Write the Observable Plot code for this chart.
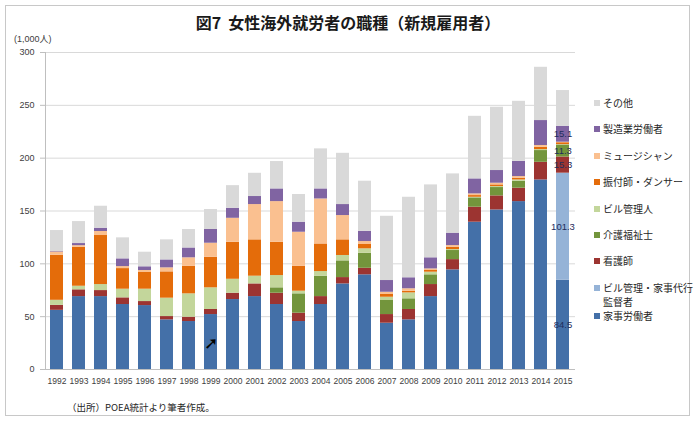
<!DOCTYPE html>
<html>
<head>
<meta charset="utf-8">
<script src="https://cdn.jsdelivr.net/npm/d3@7"></script>
<script src="https://cdn.jsdelivr.net/npm/@observablehq/plot@0.6"></script>
<style>
  body { margin: 0; background: #fff; }
  #wrap { position: relative; width: 696px; height: 424px; background: #fff; overflow: hidden;
          font-family: "Noto Sans CJK JP", "Noto Sans", sans-serif; color: #262626; }
  #border { position: absolute; left: 5px; top: 5px; width: 685px; height: 411px; border: 1px solid #c8c8c8; box-sizing: border-box; }
  #title { position: absolute; left: 0; top: 13px; width: 696px; text-align: center; font-weight: bold; font-size: 16px; line-height: 18px; color: #1a1a1a; }
  #unit { position: absolute; left: 14px; top: 33px; font-size: 9px; line-height: 12px; color: #404040; font-family: "Liberation Sans", "Noto Sans CJK JP", sans-serif; }
  #chart { position: absolute; left: 0; top: 0; }
  #legend { position: absolute; left: 594px; top: 96px; font-size: 10px; line-height: 14px; color: #262626; }
  .item { position: relative; padding-left: 9px; margin-bottom: 12.4px; white-space: nowrap; }
  .item.two { margin-bottom: 0; }
  .sw { position: absolute; left: 0; top: 4px; width: 6px; height: 6px; }
  #caption { position: absolute; left: 67px; top: 401px; font-size: 9.5px; line-height: 12px; color: #262626; }
</style>
</head>
<body>
<div id="wrap">
  <div id="border"></div>
  <div id="chart"></div>
  <div id="title">図7&nbsp; 女性海外就労者の職種（新規雇用者）</div>
  <div id="unit">(1,000人)</div>
  <div id="legend"></div>
  <div id="caption">（出所）POEA統計より筆者作成。</div>
</div>
<script>
const years = ["1992","1993","1994","1995","1996","1997","1998","1999","2000","2001","2002","2003",
               "2004","2005","2006","2007","2008","2009","2010","2011","2012","2013","2014","2015"];

// stacking order, bottom to top
const seriesNames = ["家事労働者", "ビル管理・家事代行監督者", "看護師", "介護福祉士", "ビル管理人",
                     "振付師・ダンサー", "ミュージシャン", "製造業労働者", "その他"];
const seriesColors = ["#4470a8", "#95b3d7", "#9c3431", "#73953c", "#c3d69b",
                      "#e46c0a", "#fac090", "#8064a2", "#d9d9d9"];

const domesticWorkers = [56, 69, 69, 61.5, 60.5, 47, 45.4, 52, 66.2, 69, 61.5, 45.4,
                         61.5, 81, 89.6, 43.8, 47, 69, 94.3, 139.4, 151, 158.9, 179.4, 84.5];
const supervisors     = [0, 0, 0, 0, 0, 0, 0, 0, 0, 0, 0, 0,
                         0, 0, 0, 0, 0, 0, 0, 0, 0, 0, 0, 101.3];
const nurses          = [4.7, 6.4, 5.7, 6.3, 3.8, 3.1, 4.1, 4.8, 6, 12, 10.7, 7.9,
                         7.5, 6, 6.2, 8.2, 9.8, 11.4, 9.7, 14.2, 13.3, 12.7, 16.7, 15.3];
const careWorkers     = [0, 0, 0, 0, 0, 0, 0, 0, 0, 0, 5.1, 18.3,
                         19.3, 15.8, 14.2, 13.3, 10.1, 9.2, 8.6, 8.8, 7.9, 6.6, 11.1, 11.3];
const buildingCare    = [4.8, 3.4, 5.7, 8.2, 11.7, 17.4, 22.1, 20.5, 13.2, 7.3, 11.6, 2.5,
                         4.4, 5.1, 4.2, 3.1, 5.6, 2.5, 0.9, 0.6, 0.9, 1.2, 0.9, 0.4];
const dancers         = [42.6, 36.9, 46.4, 19.5, 15.8, 24.9, 26.1, 28.9, 35, 34.4, 31.5, 23.6,
                         26.1, 14.8, 4.1, 2.6, 1.6, 1.6, 2.2, 1.6, 1.6, 1.6, 2.2, 1.8];
const musicians       = [3.1, 1.5, 3.8, 1.9, 1.9, 3.8, 8, 13.3, 22.7, 33.4, 38.5, 32.2,
                         42.6, 23, 2.8, 2.1, 2.3, 1.5, 1.6, 1.6, 1.6, 1.6, 1.7, 0.5];
const factoryWorkers  = [0.5, 2, 3.1, 7.3, 3.5, 7.5, 9.3, 13, 9.5, 7.6, 12, 9.5,
                         9.5, 10.4, 9.7, 11.1, 10.4, 10.5, 11.7, 14.2, 12, 14.4, 23.6, 15.1];
const others          = [19.8, 20.8, 20.8, 19.9, 13.8, 19, 17.5, 18.9, 21.4, 22, 25.9, 26.2,
                         37.9, 48.5, 47.4, 60.8, 76.2, 69, 56.1, 59.2, 59.9, 56.8, 50.4, 33.8];

const seriesValues = [domesticWorkers, supervisors, nurses, careWorkers, buildingCare,
                      dancers, musicians, factoryWorkers, others];

const yTicks = [0, 50, 100, 150, 200, 250, 300];
const labelYear = "2015";
const labelledSeries = ["家事労働者", "ビル管理・家事代行監督者", "看護師", "介護福祉士", "製造業労働者"];
const arrowNote = [{year: "1999", value: 25, text: "➚"}];

const rows = seriesNames.flatMap((s, i) =>
  years.map((yr, j) => ({year: yr, series: s, value: seriesValues[i][j]})));

const chart = Plot.plot({
  width: 696,
  height: 424,
  marginTop: 52,
  marginBottom: 55,
  marginLeft: 45,
  marginRight: 121,
  style: {fontFamily: "'Liberation Sans', 'Noto Sans', sans-serif", background: "transparent", overflow: "visible"},
  x: {domain: years, paddingInner: 0.4, paddingOuter: 0.2, axis: null},
  y: {domain: [0, 300], axis: null},
  color: {domain: seriesNames, range: seriesColors},
  marks: [
    Plot.gridY(yTicks.filter(t => t > 0), {stroke: "#d9d9d9", strokeOpacity: 1}),
    Plot.barY(rows, {x: "year", y: "value", z: "series", fill: "series"}),
    Plot.ruleY([0], {stroke: "#bfbfbf"}),
    Plot.frame({anchor: "left", stroke: "#bfbfbf"}),
    Plot.axisY(yTicks, {tickSize: 5, tickFormat: () => "", stroke: "#bfbfbf", label: null}),
    Plot.axisY(yTicks, {tickSize: 0, tickPadding: 11, fontSize: 9, fill: "#404040", label: null}),
    Plot.axisX({tickSize: 0, tickPadding: 8, fontSize: 8.5, fill: "#404040", label: null}),
    Plot.text(rows, Plot.stackY({
      x: "year", y: "value", z: "series",
      text: d => (d.year === labelYear && labelledSeries.includes(d.series)) ? d.value.toFixed(1) : "",
      fill: "#1f2d5c", fontSize: 9.5
    })),
    Plot.text(arrowNote, {x: "year", y: "value", text: "text", fontSize: 17, fill: "#000"})
  ]
});
document.getElementById("chart").appendChild(chart);

const legend = document.getElementById("legend");
seriesNames.map((s, i) => ({s, c: seriesColors[i]})).reverse().forEach(({s, c}) => {
  const div = document.createElement("div");
  const two = s.includes("代行");
  div.className = "item" + (two ? " two" : "");
  const sw = document.createElement("span");
  sw.className = "sw";
  sw.style.background = c;
  div.appendChild(sw);
  if (two) {
    const k = s.indexOf("代行") + 2;
    div.appendChild(document.createTextNode(s.slice(0, k)));
    div.appendChild(document.createElement("br"));
    div.appendChild(document.createTextNode(s.slice(k)));
  } else {
    div.appendChild(document.createTextNode(s));
  }
  legend.appendChild(div);
});
</script>
</body>
</html>
